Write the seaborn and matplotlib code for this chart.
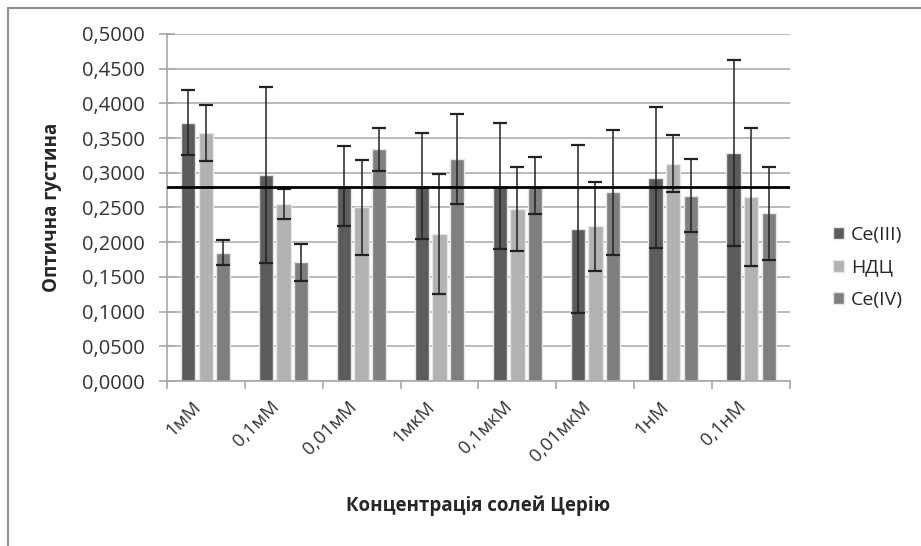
import matplotlib
matplotlib.use("Agg")
import matplotlib.pyplot as plt
import matplotlib.transforms as mtransforms
from matplotlib.lines import Line2D
from matplotlib.ticker import FuncFormatter, MultipleLocator
import seaborn as sns
import pandas as pd
import numpy as np

concentrations = ['1мМ', '0,1мМ', '0,01мМ', '1мкМ', '0,1мкМ', '0,01мкМ', '1нМ', '0,1нМ']
series_names = ['Ce(III)', 'НДЦ', 'Ce(IV)']

ce3 = [0.372, 0.297, 0.281, 0.281, 0.281, 0.219, 0.293, 0.328]
ce3_err = [0.047, 0.127, 0.057, 0.076, 0.091, 0.121, 0.102, 0.134]
ndc = [0.357, 0.255, 0.250, 0.212, 0.248, 0.223, 0.313, 0.265]
ndc_err = [0.040, 0.021, 0.069, 0.086, 0.061, 0.064, 0.041, 0.099]
ce4 = [0.185, 0.171, 0.334, 0.320, 0.281, 0.272, 0.267, 0.242]
ce4_err = [0.018, 0.027, 0.031, 0.065, 0.041, 0.090, 0.053, 0.067]
control_level = 0.28

colors = {'Ce(III)': '#5c5c5c', 'НДЦ': '#b2b2b2', 'Ce(IV)': '#7f7f7f'}

df = pd.DataFrame({
    'conc': concentrations * 3,
    'series': np.repeat(series_names, len(concentrations)),
    'od': ce3 + ndc + ce4,
    'err': ce3_err + ndc_err + ce4_err,
})

sns.set_style('white')
plt.rcParams['font.family'] = ['Open Sans', 'DejaVu Sans']

fig = plt.figure(figsize=(9.21, 5.46), dpi=100)
ax = fig.add_axes([0.181, 0.302, 0.677, 0.636])

sns.barplot(data=df, x='conc', y='od', hue='series', hue_order=series_names,
            order=concentrations, palette=colors, width=0.68, gap=0.19,
            edgecolor='#e6e6e6', linewidth=1, errorbar=None, ax=ax, zorder=2)

# error bars placed on the centres of the drawn bars
for cont, name in zip(ax.containers, series_names):
    sub = df[df['series'] == name].set_index('conc').loc[concentrations]
    xs = [p.get_x() + p.get_width() / 2 for p in cont.patches]
    ax.errorbar(xs, sub['od'], yerr=sub['err'], fmt='none', ecolor='#222222',
                elinewidth=1.1, capsize=5, capthick=1.6, zorder=4)

ax.axhline(control_level, color='black', lw=2, zorder=5)

ax.set_ylim(0, 0.5)
ax.set_xlim(-0.5, len(concentrations) - 0.5)
ax.yaxis.set_major_locator(MultipleLocator(0.05))
ax.yaxis.set_major_formatter(FuncFormatter(lambda v, p: f'{v:.4f}'.replace('.', ',')))
ax.yaxis.grid(True, color='#b4b4b4', lw=1.3, zorder=0)
ax.set_axisbelow(True)

for s in ['top', 'right']:
    ax.spines[s].set_visible(False)
for s in ['left', 'bottom']:
    ax.spines[s].set_color('#a8a8a8')
    ax.spines[s].set_linewidth(1.2)

ax.tick_params(axis='y', which='major', direction='inout', length=12, width=1.2,
               color='#a8a8a8', labelsize=14.5, labelcolor='#333333', left=True, pad=10)
ax.set_xticks(np.arange(len(concentrations)))
ax.set_xticklabels(concentrations, rotation=45, ha='right', va='top', rotation_mode='anchor')
ax.set_xticks(np.arange(len(concentrations) + 1) - 0.5, minor=True)
ax.tick_params(axis='x', which='major', length=0, labelsize=13.5, labelcolor='#333333', pad=12)
ax.tick_params(axis='x', which='minor', direction='out', length=6, width=1.2, color='#a8a8a8', bottom=True)
shift = mtransforms.ScaledTranslation(-14 / 100, 0, fig.dpi_scale_trans)
for lab in ax.get_xticklabels():
    lab.set_transform(lab.get_transform() + shift)

ax.set_xlabel('Концентрація солей Церію', fontsize=13.5, fontweight='bold', labelpad=22)
ax.set_ylabel('Оптична густина', fontsize=13.5, fontweight='bold', labelpad=14)

handles, labels = ax.get_legend_handles_labels()
ax.legend(handles, labels, loc='center left', bbox_to_anchor=(0.885, 0.51),
          bbox_transform=fig.transFigure, frameon=False, fontsize=14,
          handlelength=0.6, handleheight=0.6, handletextpad=0.35, labelspacing=0.75)

# frame around the chart
fig.add_artist(Line2D([0.009, 1.0], [0.985, 0.985], color='#909090', lw=1.5))
fig.add_artist(Line2D([0.009, 0.009], [0.0, 0.985], color='#909090', lw=1.5))

fig.savefig('out.png', dpi=100)
